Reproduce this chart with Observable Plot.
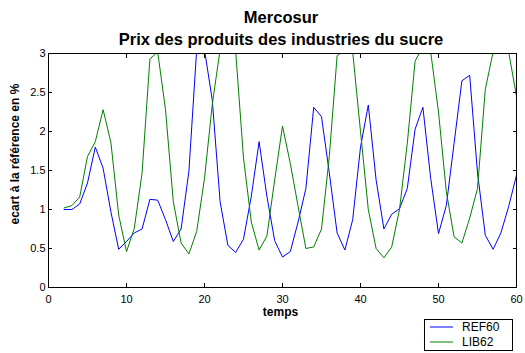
<!DOCTYPE html>
<html><head><meta charset="utf-8">
<script src="https://cdn.jsdelivr.net/npm/d3@7"></script>
<script src="https://cdn.jsdelivr.net/npm/@observablehq/plot@0.6"></script>
<style>
body{margin:0;background:#fff;}
#wrap{position:relative;width:525px;height:353px;}
</style></head><body><div id="wrap"></div>
<script>
const temps = [2,3,4,5,6,7,8,9,10,11,12,13,14,15,16,17,18,19,20,21,22,23,24,25,26,27,28,29,30,31,32,33,34,35,36,37,38,39,40,41,42,43,44,45,46,47,48,49,50,51,52,53,54,55,56,57,58,59,60];
const ref60 = [1.00,1.00,1.07,1.34,1.80,1.53,0.97,0.49,0.59,0.70,0.75,1.13,1.12,0.87,0.59,0.75,1.49,3.05,3.05,2.40,1.10,0.54,0.45,0.62,1.17,1.87,1.17,0.60,0.39,0.46,0.84,1.27,2.31,2.19,1.47,0.70,0.48,0.87,1.80,2.34,1.38,0.75,0.94,1.01,1.27,2.03,2.31,1.40,0.69,1.05,1.85,2.65,2.72,1.47,0.67,0.49,0.70,1.04,1.44];
const lib62 = [1.02,1.05,1.16,1.68,1.87,2.28,1.86,0.93,0.46,0.76,1.47,2.93,3.02,2.28,1.10,0.57,0.43,0.72,1.40,2.35,3.05,3.10,3.02,1.66,0.84,0.48,0.66,1.38,2.07,1.59,1.04,0.50,0.52,0.75,1.68,2.97,3.05,3.02,2.00,1.00,0.50,0.38,0.52,1.00,1.85,2.90,3.10,3.02,2.25,1.23,0.65,0.57,0.89,1.27,2.54,3.02,3.10,3.02,2.45];
const xTicks = [0,10,20,30,40,50,60];
const yTicks = [0,0.5,1,1.5,2,2.5,3];
const seriesNames = ["REF60","LIB62"];
const seriesColors = ["#0000ff","#008000"];
const titleText = "Mercosur";
const subtitleText = "Prix des produits des industries du sucre";
const xLabel = "temps";
const yLabel = "ecart à la référence en %";

const FONT = '"Liberation Sans", Arial, Helvetica, sans-serif';
const rows = temps.flatMap((t, i) => [
  {t, v: ref60[i], s: seriesNames[0]},
  {t, v: lib62[i], s: seriesNames[1]}
]);

const plot = Plot.plot({
  width: 525, height: 353,
  marginLeft: 48, marginRight: 9, marginTop: 53, marginBottom: 66,
  style: {fontFamily: FONT, fontSize: "11px", color: "#000", background: "#fff", overflow: "visible"},
  x: {domain: [0, 60]},
  y: {domain: [0, 3]},
  color: {domain: seriesNames, range: seriesColors},
  marks: [
    Plot.lineY(rows, {x: "t", y: "v", stroke: "s", strokeWidth: 1, clip: true}),
    Plot.frame({stroke: "#000", strokeWidth: 1}),
    Plot.axisX({ticks: xTicks, anchor: "bottom", tickSize: -4, tickPadding: 12, label: null, tickFormat: d => String(d), stroke: "#000"}),
    Plot.axisX({ticks: xTicks, anchor: "top", tickSize: -4, label: null, tickFormat: () => "", stroke: "#000"}),
    Plot.axisY({ticks: yTicks, anchor: "left", tickSize: -4, tickPadding: 7, label: null, tickFormat: d => String(d), stroke: "#000"}),
    Plot.axisY({ticks: yTicks, anchor: "right", tickSize: -4, label: null, tickFormat: () => "", stroke: "#000"})
  ]
});
document.getElementById("wrap").appendChild(plot);

const svg = d3.select(plot);
const g = svg.append("g").attr("font-family", FONT).attr("fill", "#000");
g.append("text").attr("x", 281).attr("y", 23).attr("text-anchor", "middle")
  .attr("font-weight", "bold").attr("font-size", 16.5).text(titleText);
g.append("text").attr("x", 281).attr("y", 45).attr("text-anchor", "middle")
  .attr("font-weight", "bold").attr("font-size", 16.5).text(subtitleText);
g.append("text").attr("x", 280.5).attr("y", 316).attr("text-anchor", "middle")
  .attr("font-weight", "bold").attr("font-size", 12).text(xLabel);
g.append("text").attr("transform", "translate(19,154) rotate(-90)").attr("text-anchor", "middle")
  .attr("font-weight", "bold").attr("font-size", 12).text(yLabel);

const leg = svg.append("g").attr("font-family", FONT);
leg.append("rect").attr("x", 424.5).attr("y", 319.5).attr("width", 88).attr("height", 31)
  .attr("fill", "#fff").attr("stroke", "#000");
seriesNames.forEach((name, i) => {
  const y = 327 + i * 15;
  leg.append("line").attr("x1", 430).attr("x2", 453).attr("y1", y).attr("y2", y)
    .attr("stroke", seriesColors[i]).attr("stroke-width", 1);
  leg.append("text").attr("x", 462).attr("y", y + 4).attr("text-anchor", "start")
    .attr("font-size", 12).attr("fill", "#000").text(name);
});
</script></body></html>
